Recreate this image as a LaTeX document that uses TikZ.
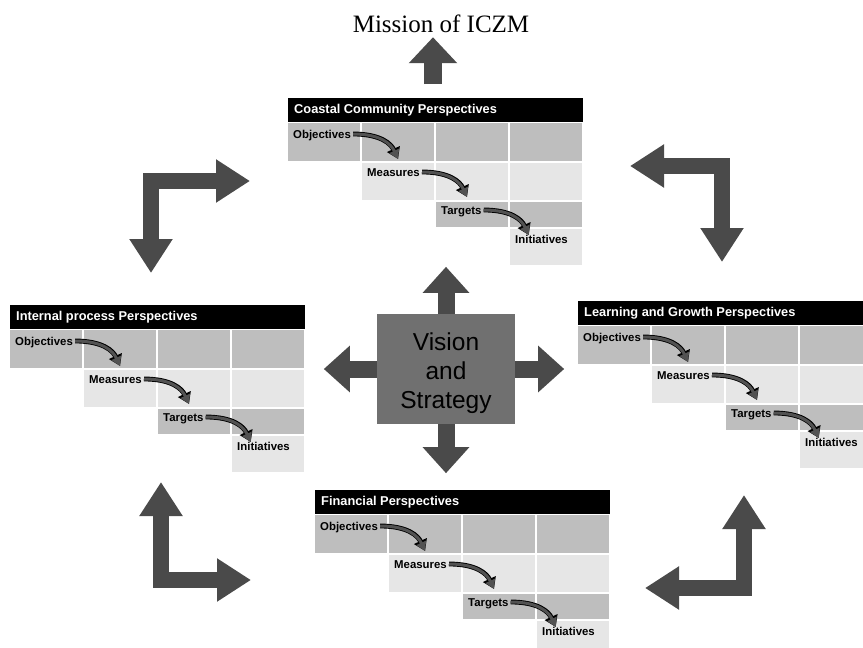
\documentclass[tikz,border=0pt]{standalone}
\usepackage{fontspec}
\setmainfont{Liberation Serif}
\setsansfont{Liberation Sans}
\usepackage{tikz}
\usetikzlibrary{arrows.meta}
\usetikzlibrary{calc}
\usetikzlibrary{positioning}
\definecolor{mydark}{HTML}{4A4A4A}
\definecolor{mybox}{HTML}{707070}
\definecolor{mycelldark}{HTML}{BEBEBE}
\definecolor{mycelllight}{HTML}{E6E6E6}
\colorlet{mycurve}{black!68}
\tikzset{
  >=latex,
  bar/.style={fill=black,draw=white,line width=1pt},
  cell dark/.style={fill=mycelldark,draw=white,line width=1.5pt},
  cell light/.style={fill=mycelllight,draw=white,line width=1.5pt},
  bar text/.style={anchor=base west,inner sep=0,text=white,font=\sffamily\bfseries\fontsize{12.8}{14}\selectfont},
  cell text/.style={anchor=base west,inner sep=0,font=\sffamily\bfseries\fontsize{11.4}{13}\selectfont},
  flow arrow/.style={-{Triangle[length=9pt,width=10pt]},line width=3pt,mycurve,
    preaction={draw=black,line width=4.8pt,-{Triangle[length=11pt,width=13.5pt]}}},
  big arrow/.style={-{Triangle[length=26pt,width=45pt]},line width=17pt,mydark},
  corner arrow/.style={{Triangle[length=34pt,width=41pt]}-{Triangle[length=34pt,width=41pt]},line width=16pt,mydark},
  mission/.style={anchor=base,inner sep=0,outer sep=5pt,font=\rmfamily\fontsize{25}{30}\selectfont},
  vision/.style={fill=mybox,minimum width=138pt,minimum height=110pt,align=center,font=\sffamily\fontsize{24.5}{29}\selectfont}
}
% one perspective table: name, x, y, title
\newcommand{\perspective}[4]{
  \begin{scope}[shift={(#2,#3)}]
    \foreach \c in {0,...,3} \path[cell dark] (74*\c,25) rectangle ++(74,40);
    \foreach \c in {1,...,3} \path[cell light] (74*\c,65) rectangle ++(74,39);
    \foreach \c in {2,3} \path[cell dark] (74*\c,104) rectangle ++(74,27);
    \path[cell light] (222,131) rectangle ++(74,38);
    \path[bar] (0,0) rectangle (296,25);
    \node[bar text] (#1-title) at (7,16) {#4};
    \node[cell text] (#1-obj) at (6,41)   {Objectives};
    \node[cell text] (#1-mea) at (80,79)  {Measures};
    \node[cell text] (#1-tar) at (154,117){Targets};
    \node[cell text] (#1-ini) at (228,146){Initiatives};
    \foreach \s in {obj,mea,tar}{
      \coordinate (#1-\s-a) at ($(#1-\s.base east)+(2,-4)$);
      \coordinate (#1-\s-b) at ($(#1-\s-a)+(45,25)$);
      \draw[flow arrow] (#1-\s-a) .. controls ($(#1-\s-a)+(28,0)$) and ($(#1-\s-b)+(-7,-15)$) .. (#1-\s-b);
    }
  \end{scope}
}

\begin{document}
\begin{tikzpicture}[x=1pt,y=-1pt]
  \useasboundingbox (0,0) rectangle (863,648);
  \clip (0,0) rectangle (863,648);
  % mission on top
  \node[mission] (mission) at (441,32) {Mission of ICZM};
  \coordinate (m-foot) at (433,84);
  \draw[-{Triangle[length=26pt,width=47pt]},line width=18pt,mydark] (m-foot) -- (m-foot |- mission.south);
  % the four perspectives
  \perspective{coastal}{287}{97}{Coastal Community Perspectives}
  \perspective{internal}{9}{304}{Internal process Perspectives}
  \perspective{learning}{577}{300}{Learning and Growth Perspectives}
  \perspective{financial}{314}{489}{Financial Perspectives}
  % vision in the middle
  \node[vision] (vs) at (446,369) {};
  \path (vs.north) ++(0,-47) coordinate (vs-up);
  \path (vs.south) ++(0,49)  coordinate (vs-down);
  \path (vs.west) ++(-53,0)  coordinate (vs-left);
  \path (vs.east) ++(49,0)   coordinate (vs-right);
  \draw[big arrow] (vs.north) -- (vs-up);
  \draw[big arrow] (vs.south) -- (vs-down);
  \draw[big arrow] (vs.west) -- (vs-left);
  \draw[big arrow] (vs.east) -- (vs-right);
  \node[vision,fill=none] (vs-text) at (446,373) {Vision\\and\\Strategy};
  % corner arrows
  \coordinate (tl) at (151,181); \coordinate (tl-a) at (250,181); \coordinate (tl-b) at (151,273);
  \coordinate (tr) at (722,166); \coordinate (tr-a) at (630,166); \coordinate (tr-b) at (722,262);
  \coordinate (bl) at (161,580); \coordinate (bl-a) at (161,482); \coordinate (bl-b) at (251,580);
  \coordinate (br) at (744,588); \coordinate (br-a) at (744,495); \coordinate (br-b) at (645,588);
  \draw[corner arrow] (tl-b) -- (tl) -- (tl-a);
  \draw[corner arrow] (tr-a) -- (tr) -- (tr-b);
  \draw[corner arrow] (bl-a) -- (bl) -- (bl-b);
  \draw[corner arrow] (br-a) -- (br) -- (br-b);
\end{tikzpicture}
\end{document}
